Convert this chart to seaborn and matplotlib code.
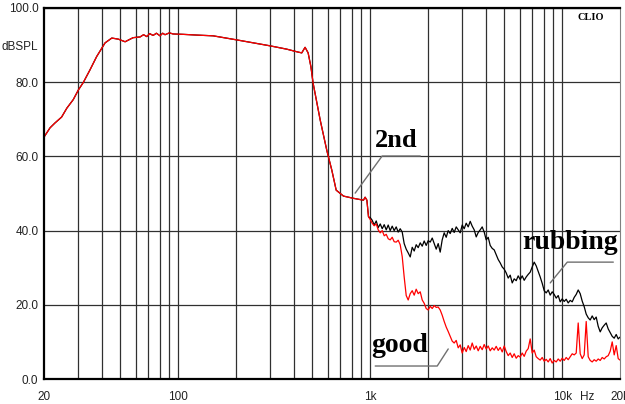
import numpy as np
import pandas as pd
import matplotlib
matplotlib.use('Agg')
import matplotlib.pyplot as plt
from matplotlib.ticker import NullFormatter
import seaborn as sns

# shared part of both sweeps (20 Hz .. ~1 kHz)
low_freq = [20, 21.5, 22.8, 24.7, 26.3, 28.4, 30.2, 32.1, 34.7, 37.6, 41.6, 45.1, 48.8,
            52.9, 58.2, 63.3, 66, 68.6, 71, 74.0, 77, 80.4, 83, 85.4, 90, 94.0, 106, 125,
            152, 202, 246, 301, 368, 415, 440, 458, 475, 491, 504, 549, 595, 631, 665,
            726, 818, 922, 941, 961, 980]
low_db = [65.2, 67.7, 69.0, 70.6, 73.0, 75.3, 77.9, 80.0, 83.3, 86.9, 90.6, 91.9, 91.6,
          90.9, 92.0, 92.2, 92.8, 92.3, 93.1, 92.6, 93.2, 92.5, 93.2, 92.8, 93.3, 93.0,
          92.9, 92.7, 92.5, 91.4, 90.6, 89.8, 88.9, 88.2, 87.9, 89.4, 87.9, 84.2, 79.8,
          69.8, 61.5, 56.3, 50.9, 49.3, 48.7, 48.2, 49.0, 48.2, 43.7]

# 1 kHz .. 20 kHz, 1/96 decade
high_freq = [1000, 1024, 1049, 1075, 1101, 1128, 1155, 1183,
             1212, 1241, 1271, 1302, 1333, 1366, 1399, 1433,
             1468, 1503, 1540, 1577, 1616, 1655, 1695, 1736,
             1778, 1822, 1866, 1911, 1957, 2005, 2054, 2104,
             2154, 2207, 2260, 2315, 2371, 2429, 2488, 2548,
             2610, 2674, 2738, 2805, 2873, 2943, 3014, 3088,
             3162, 3239, 3318, 3398, 3481, 3566, 3652, 3741,
             3831, 3924, 4019, 4117, 4217, 4320, 4424, 4532,
             4642, 4754, 4870, 4988, 5109, 5233, 5360, 5491,
             5623, 5760, 5900, 6043, 6190, 6340, 6494, 6652,
             6813, 6978, 7147, 7321, 7499, 7681, 7867, 8059,
             8254, 8455, 8659, 8870, 9085, 9306, 9532, 9764,
             10000, 10243, 10491, 10746, 11007, 11275, 11548, 11829,
             12115, 12409, 12710, 13019, 13335, 13660, 13990, 14331,
             14678, 15034, 15399, 15773, 16156, 16550, 16950, 17363,
             17783, 18215, 18656, 19110, 19573, 20000]

good_db = [43.0, 42.0, 41.3, 41.8, 40.2, 39.4, 40.0, 38.6,
           39.0, 37.8, 37.5, 38.2, 37.0, 36.9, 37.4, 36.2,
           33.0, 27.5, 22.5, 21.3, 23.0, 23.8, 22.6, 24.2,
           23.0, 23.5, 21.3, 20.4, 19.0, 18.6, 19.6, 19.0,
           19.8, 19.3, 19.4, 18.6, 17.2, 15.5, 14.0, 12.8,
           11.5, 10.2, 9.7, 10.4, 8.4, 9.2, 7.0, 8.5,
           7.4, 9.0, 7.8, 9.7, 8.0, 8.9, 7.6, 8.8,
           7.9, 9.3, 8.1, 8.9, 7.6, 8.4, 7.8, 8.8,
           7.7, 8.5, 7.3, 8.9, 7.4, 6.3, 7.0, 5.8,
           6.8, 5.6, 6.3, 5.9, 7.0, 6.1, 7.5, 8.2,
           10.8, 7.0, 7.8, 6.0, 5.5, 5.1, 5.8, 4.8,
           5.3, 4.6, 5.5, 4.3, 5.0, 4.6, 5.4, 4.8,
           5.6, 5.0, 5.8, 5.2, 6.0, 6.8, 6.5, 7.0,
           15.1, 6.8, 5.5, 6.5, 15.5, 6.0, 5.0, 4.6,
           5.2, 4.8, 5.4, 5.0, 5.8, 5.4, 6.0, 6.3,
           7.5, 10.0, 6.5, 9.0, 5.5, 5.1]

rubbing_db = [43.5, 42.8, 41.5, 42.6, 40.8, 41.8, 40.5, 41.6,
              40.2, 41.5, 40.0, 41.2, 40.0, 41.0, 39.6, 40.5,
              39.6, 36.5, 35.0, 34.0, 32.9, 35.5, 34.5, 36.2,
              35.4, 36.7, 35.8, 37.2, 36.0, 37.3, 36.9, 38.0,
              36.5, 35.0, 36.5, 34.2, 37.5, 39.4, 38.2, 40.0,
              39.2, 40.6, 39.5, 41.0, 40.2, 39.4, 41.5, 40.5,
              42.0, 41.0, 42.5, 41.2, 40.2, 38.3, 39.5, 40.2,
              41.0, 39.6, 37.5, 38.2, 36.0, 35.2, 34.8, 33.5,
              32.2, 31.3, 30.2, 29.6, 28.6, 27.2, 28.0, 25.9,
              27.0, 26.5, 27.8, 26.8, 27.8, 26.6, 27.5, 28.2,
              28.8, 30.2, 31.5, 30.5, 29.0, 27.5, 25.8, 23.8,
              23.2, 24.0, 22.6, 23.5, 22.8, 21.8, 22.5, 20.8,
              21.6, 20.9, 21.5, 20.5, 21.2, 20.8, 22.0, 22.8,
              24.0, 23.0, 21.0, 19.5, 17.5, 16.5, 15.9, 17.0,
              16.0, 16.7, 14.2, 12.7, 13.8, 14.5, 15.1, 13.5,
              12.5, 11.5, 11.0, 12.0, 10.8, 11.3]

x_ticks = [20, 100, 1000, 10000, 13500, 20000]
x_labels = ['20', '100', '1k', '10k', 'Hz', '20k']
grid_freqs = [30, 40, 50, 60, 70, 80, 90, 100, 200, 300, 400, 500, 600, 700, 800, 900,
              1000, 2000, 3000, 4000, 5000, 6000, 7000, 8000, 9000, 10000]
y_ticks = [0, 20, 40, 60, 80, 100]

df = pd.concat([
    pd.DataFrame({'freq': low_freq + high_freq, 'dB': low_db + rubbing_db, 'curve': 'rubbing'}),
    pd.DataFrame({'freq': low_freq + high_freq, 'dB': low_db + good_db, 'curve': 'good'}),
])

sns.set_style('white')
plt.rcParams['font.family'] = ['Liberation Sans', 'DejaVu Sans']

fig = plt.figure(figsize=(6.25, 4.04), dpi=100)
ax = fig.add_axes([44/625, 25/404, 576/625, 371/404])

sns.lineplot(data=df, x='freq', y='dB', hue='curve', hue_order=['rubbing', 'good'],
             palette={'rubbing': 'black', 'good': '#ff0000'}, estimator=None,
             sort=False, legend=False, lw=0.9, ax=ax)

ax.set_xscale('log')
ax.set_xlim(20, 20000)
ax.set_ylim(0, 100)
ax.set_xlabel('')
ax.set_ylabel('')

ax.xaxis.remove_overlapping_locs = False
ax.set_xticks(x_ticks)
ax.set_xticklabels(x_labels)
ax.set_xticks(grid_freqs, minor=True)
ax.xaxis.set_minor_formatter(NullFormatter())
ax.set_yticks(y_ticks)
ax.set_yticklabels([f'{v:.1f}' for v in y_ticks])
ax.set_yticks(np.arange(0, 101, 2), minor=True)
ax.yaxis.set_minor_formatter(NullFormatter())

ax.grid(False)
ax.grid(True, axis='x', which='minor', color='#303030', lw=0.9)
ax.grid(True, axis='y', which='major', color='#303030', lw=0.9)

ax.tick_params(axis='x', which='both', length=0, pad=9, labelsize=8.5, colors='#222222')
ax.tick_params(axis='y', which='major', length=0, pad=4, labelsize=8.5, colors='#222222')
ax.tick_params(axis='y', which='minor', direction='in', length=3, width=0.8, color='black')

for side in ['left', 'bottom', 'top']:
    ax.spines[side].set_color('black')
    ax.spines[side].set_linewidth(1.6)
ax.spines['right'].set_color('#808080')
ax.spines['right'].set_linewidth(0.8)

ax.text(-0.01, 0.895, 'dBSPL', transform=ax.transAxes, ha='right', va='center',
        fontsize=8.5, color='#222222')
ax.text(0.972, 0.975, 'CLIO', transform=ax.transAxes, ha='right', va='center',
        fontsize=7.5, fontweight='bold', family='Liberation Serif', color='black')

# labels and leaders
lab_style = dict(fontweight='bold', family='Liberation Serif', ha='center', va='center',
                 color='black')
ax.text(1366, 64.4, '2nd', fontsize=19, **lab_style)
ax.text(11016, 36.7, 'rubbing', fontsize=20, **lab_style)
ax.text(1432, 9.0, 'good', fontsize=20, **lab_style)
lead = dict(color='#707070', lw=1)
ax.plot([835, 1154, 1822], [50.1, 60.1, 60.1], **lead)
ax.plot([8664, 10627, 18458], [25.9, 31.5, 31.5], **lead)
ax.plot([1062, 2234, 2549], [3.5, 3.5, 8.1], **lead)

fig.savefig('out.png', dpi=100)
